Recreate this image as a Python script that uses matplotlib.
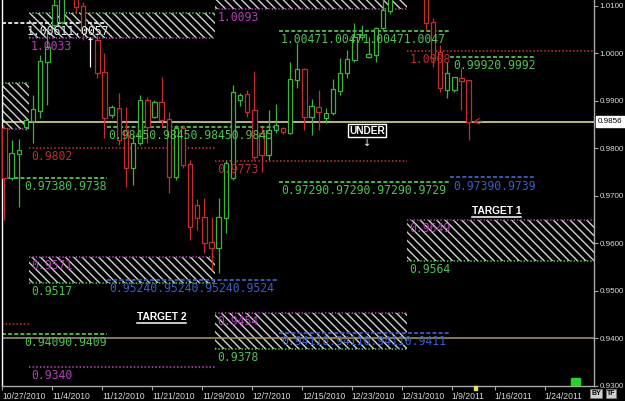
"""Daily candles with pivot levels, hatched target zones and price markers."""

import matplotlib

matplotlib.use("Agg")
import matplotlib.pyplot as plt
from matplotlib.lines import Line2D
from matplotlib.patches import Rectangle
from matplotlib.transforms import IdentityTransform

# ---------------------------------------------------------------- data
bar_idx = [0, 1, 2, 3, 4, 5, 6, 7, 8, 10, 11, 12, 13, 14, 15, 16, 17, 18, 19,
           20, 21, 22, 23, 24, 25, 26, 27, 28, 29, 30, 31, 32, 33, 34, 35, 36,
           37, 38, 39, 40, 41, 42, 43, 44, 45, 46, 47, 48, 49, 50, 51, 52, 53,
           54, 59, 60, 61, 62, 63, 64, 65]
opens = [0.9843, 0.9738, 0.9788, 0.9845, 0.9858, 0.9879, 0.9982, 1.0060,
         1.0066, 1.0125, 1.0100, 1.0030, 1.0028, 0.9961, 0.9871, 0.9885,
         0.9839, 0.9759, 0.9812, 0.9902, 0.9866, 0.9898, 0.9862, 0.9740,
         0.9843, 0.9767, 0.9681, 0.9656, 0.9603, 0.9591, 0.9654, 0.9738,
         0.9902, 0.9915, 0.9881, 0.9833, 0.9786, 0.9839, 0.9843, 0.9833,
         0.9944, 0.9967, 0.9866, 0.9887, 0.9864, 0.9875, 0.9921, 0.9959,
         0.9986, 1.0035, 0.9993, 0.9997, 1.0054, 1.0089, 1.0130, 1.0066,
         1.0003, 0.9923, 0.9923, 0.9948, 0.9944]
highs = [0.9849, 0.9818, 0.9820, 0.9864, 0.9913, 0.9997, 1.0045, 1.0125,
         1.0130, 1.0130, 1.0108, 1.0035, 1.0045, 1.0001, 0.9892, 0.9917,
         0.9887, 0.9828, 0.9913, 0.9908, 0.9902, 0.9950, 0.9877, 0.9849,
         0.9849, 0.9776, 0.9694, 0.9696, 0.9656, 0.9696, 0.9776, 0.9934,
         0.9917, 0.9923, 0.9963, 0.9845, 0.9881, 0.9894, 0.9845, 0.9982,
         1.0022, 0.9969, 0.9904, 0.9923, 0.9885, 0.9946, 0.9991, 1.0007,
         1.0064, 1.0060, 1.0035, 1.0056, 1.0118, 1.0135, 1.0140, 1.0075,
         1.0018, 0.9982, 0.9950, 0.9969, 0.9944]
lows = [0.9649, 0.9734, 0.9677, 0.9839, 0.9812, 0.9864, 0.9892, 1.0056,
        1.0062, 1.0087, 1.0028, 0.9972, 0.9948, 0.9822, 0.9864, 0.9807,
        0.9719, 0.9723, 0.9807, 0.9812, 0.9864, 0.9845, 0.9706, 0.9734,
        0.9759, 0.9607, 0.9628, 0.9580, 0.9544, 0.9538, 0.9622, 0.9734,
        0.9889, 0.9866, 0.9776, 0.9750, 0.9776, 0.9833, 0.9831, 0.9831,
        0.9927, 0.9839, 0.9828, 0.9839, 0.9854, 0.9871, 0.9913, 0.9948,
        0.9982, 1.0028, 0.9991, 0.9982, 1.0049, 1.0083, 1.0049, 0.9972,
        0.9919, 0.9906, 0.9919, 0.9881, 0.9818]
closes = [0.9738, 0.9790, 0.9797, 0.9860, 0.9883, 0.9984, 1.0014, 1.0102,
          1.0120, 1.0098, 1.0043, 1.0030, 0.9959, 0.9864, 0.9887, 0.9818,
          0.9759, 0.9812, 0.9902, 0.9845, 0.9898, 0.9860, 0.9740, 0.9843,
          0.9765, 0.9635, 0.9654, 0.9601, 0.9591, 0.9656, 0.9769, 0.9919,
          0.9913, 0.9877, 0.9782, 0.9786, 0.9839, 0.9849, 0.9835, 0.9946,
          0.9967, 0.9866, 0.9889, 0.9877, 0.9875, 0.9925, 0.9959, 0.9988,
          1.0035, 1.0039, 0.9999, 1.0054, 1.0092, 1.0125, 1.0064, 0.9991,
          0.9927, 0.9959, 0.9950, 0.9942, 0.9856]

tick_idx = [0, 7, 14, 21, 28, 35, 42, 49, 56, 63, 69, 76]
tick_labels = ["10/27/2010", "11/4/2010", "11/12/2010", "11/21/2010",
               "11/29/2010", "12/7/2010", "12/15/2010", "12/23/2010",
               "12/31/2010", "1/9/2011", "1/16/2011", "1/24/2011"]
price_ticks = [0.9300, 0.9400, 0.9500, 0.9600, 0.9700, 0.9800, 0.9900,
               1.0000, 1.0100]
last_price = 0.9856
guide_prices = [0.9856, 0.9400]

# hatched zones: bar span, price span, labels
zone_x0 = [3.4, 29.5, -0.35, 3.4, 56.4, 29.5]
zone_x1 = [29.5, 56.4, 3.4, 29.5, 82.6, 56.4]
zone_lo = [1.0033, 1.0093, 0.9840, 0.9517, 0.9564, 0.9378]
zone_hi = [1.0086, 1.0140, 0.9938, 0.9571, 0.9649, 0.9454]
zone_kind = ["upper", "upper", "upper", "lower", "lower", "lower"]
zone_top_label = ["", "", "", "0.9571", "0.9649", "0.9454"]
zone_bottom_label = ["1.0033", "1.0093", "", "0.9517", "0.9564", "0.9378"]

# dashed / dotted pivot levels
level_price = [1.0064, 1.0047, 1.0006, 0.9992, 0.9845, 0.9802, 0.9773,
               0.9738, 0.9729, 0.9739, 0.9524, 0.9409, 0.9411, 0.9430, 0.9340]
level_x0 = [-0.35, 38.5, 56.4, 62.4, 14.4, 3.4, 29.5, -0.35, 38.5, 62.4,
            14.4, -0.35, 38.5, -0.35, 3.4]
level_x1 = [14.4, 62.4, 82.6, 74.3, 38.5, 29.5, 56.4, 14.4, 62.4, 74.3,
            38.5, 14.4, 62.4, 3.4, 29.5]
level_color = ["white", "green", "red", "green", "green", "red", "red",
               "green", "green", "blue", "blue", "green", "blue", "red",
               "magenta"]
level_label = ["1.00611.0057", "1.00471.00471.00471.0047", "1.0008",
               "0.99920.9992", "0.98450.98450.98450.9845", "0.9802", "0.9773",
               "0.97380.9738", "0.97290.97290.97290.9729", "0.97390.9739",
               "0.95240.95240.95240.9524", "0.94090.9409",
               "0.94110.94110.94110.9411", "", "0.9340"]
level_label_x = [3.1, 38.7, 56.7, 62.8, 14.5, 3.8, 29.8, 2.7, 38.7, 62.8,
                 14.7, 2.7, 38.7, 0.0, 3.8]

# ---------------------------------------------------------------- style
FIG_W, FIG_H = 625, 401
BG = "black"
AXIS_GRAY = "#a8a8a8"
TICK_TEXT = "#d8d8d8"
CANDLE_UP = "#3cb43c"
CANDLE_DOWN = "#c42e2e"
HATCH_GRAY = "#d2d2d2"
LEVEL_COLORS = {
    "green": "#52c052",
    "red": "#b8302c",
    "magenta": "#b040b4",
    "blue": "#3c5ec4",
    "white": "#e4eef0",
}
LEVEL_STYLES = {
    "green": (0, (2.2, 1.2)),
    "blue": (0, (2.2, 1.2)),
    "white": (0, (2.2, 1.2)),
    "red": (0, (0.8, 1.2)),
    "magenta": (0, (0.8, 1.2)),
}
LABEL_FONT = dict(family="DejaVu Sans Mono", fontsize=8.3)
AXIS_FONT = "Liberation Sans"
BAR_OFFSET = 0.35   # candles sit slightly right of the date tick
BODY_W = 0.62


def draw_candles(ax):
    """Hollow-bodied candles: wick first, then the outlined body on top."""
    for i, o, h, l, c in zip(bar_idx, opens, highs, lows, closes):
        if c > o:
            col = CANDLE_UP
        elif c < o:
            col = CANDLE_DOWN
        else:
            col = "white"
        ax.vlines(i, l, h, color=col, lw=0.9, zorder=3)
        lo, hi = min(o, c), max(o, c)
        ax.add_patch(Rectangle((i - BODY_W / 2, lo), BODY_W, max(hi - lo, 0.00005),
                               facecolor=BG, edgecolor=col, lw=0.9, zorder=4))


def draw_zones(ax):
    """Hatched zones with dotted borders and their price labels."""
    for x0, x1, lo, hi, kind, top_lab, bot_lab in zip(
            zone_x0, zone_x1, zone_lo, zone_hi, zone_kind,
            zone_top_label, zone_bottom_label):
        ax.add_patch(Rectangle((x0, lo), x1 - x0, hi - lo, facecolor="none",
                               edgecolor=HATCH_GRAY, hatch="\\\\\\\\", lw=0,
                               zorder=1))
        top_col = "green" if kind == "upper" else "magenta"
        bot_col = "magenta" if kind == "upper" else "green"
        ax.hlines(hi, x0, x1, color=LEVEL_COLORS[top_col],
                  linestyles=LEVEL_STYLES["red"], lw=1.2, zorder=2)
        ax.hlines(lo, x0, x1, color=LEVEL_COLORS[bot_col],
                  linestyles=LEVEL_STYLES["red"], lw=1.2, zorder=2)
        if top_lab:
            ax.annotate(top_lab, (x0 + 0.3, hi), xytext=(0, -1.5),
                        textcoords="offset points", va="top", ha="left",
                        color=LEVEL_COLORS["magenta"], zorder=5, **LABEL_FONT)
        if bot_lab:
            ax.annotate(bot_lab, (x0 + 0.3, lo), xytext=(0, -1.5),
                        textcoords="offset points", va="top", ha="left",
                        color=LEVEL_COLORS[bot_col], zorder=5, **LABEL_FONT)


def draw_levels(ax):
    """Pivot level segments with their repeated price read-outs."""
    for p, x0, x1, key, lab, lx in zip(level_price, level_x0, level_x1,
                                       level_color, level_label, level_label_x):
        ax.hlines(p, x0, x1, color=LEVEL_COLORS[key],
                  linestyles=LEVEL_STYLES[key], lw=1.3, zorder=2)
        if lab:
            ax.annotate(lab, (lx, p), xytext=(0, -1.5),
                        textcoords="offset points", va="top", ha="left",
                        color=LEVEL_COLORS[key], zorder=5, **LABEL_FONT)


def underline(fig, text, color="white"):
    """Matplotlib has no underline, so draw one under the rendered text."""
    fig.canvas.draw()
    bb = text.get_window_extent()
    fig.add_artist(Line2D([bb.x0, bb.x1], [bb.y0 - 1, bb.y0 - 1],
                          transform=IdentityTransform(), color=color, lw=1.1))


def main():
    plt.rcParams["hatch.linewidth"] = 1.0
    fig = plt.figure(figsize=(FIG_W / 100, FIG_H / 100), dpi=100, facecolor=BG)
    ax = fig.add_axes([2 / FIG_W, 15 / FIG_H, 592 / FIG_W, 386 / FIG_H])
    ax.set_facecolor(BG)
    ax.set_xlim(-BAR_OFFSET, 82.56)
    ax.set_ylim(0.9300, 1.01126)

    for p, col in zip(guide_prices, ["#ece7a8", "#a89a68"]):
        ax.axhline(p, color=col, lw=1.1, zorder=2)

    draw_zones(ax)
    draw_levels(ax)
    draw_candles(ax)

    # small red pointer at the last close
    ax.annotate("", xy=(bar_idx[-1] + 0.2, last_price),
                xytext=(bar_idx[-1] + 2.2, last_price + 0.0002),
                arrowprops=dict(arrowstyle="->", color=CANDLE_DOWN, lw=0.8),
                zorder=6)

    # axes frame
    ax.spines["top"].set_visible(False)
    ax.spines["left"].set_color("white")
    ax.spines["right"].set_color(AXIS_GRAY)
    ax.spines["bottom"].set_color(AXIS_GRAY)
    for sp in ax.spines.values():
        sp.set_linewidth(1.0)

    ax.yaxis.tick_right()
    ax.set_yticks(price_ticks)
    ax.set_yticklabels([f"{p:.4f}" for p in price_ticks])
    ax.set_xticks([t - BAR_OFFSET for t in tick_idx])
    ax.set_xticklabels(tick_labels, ha="left")
    ax.tick_params(axis="y", colors=AXIS_GRAY, length=3, width=0.8, pad=1,
                   labelsize=5.8, labelcolor=TICK_TEXT)
    ax.tick_params(axis="x", colors=AXIS_GRAY, length=3, width=0.8, pad=1,
                   labelsize=6.2, labelcolor=TICK_TEXT)
    for lab in ax.get_xticklabels() + ax.get_yticklabels():
        lab.set_family(AXIS_FONT)

    # current price flag on the axis
    ax.annotate(f"{last_price:.4f}", (1, last_price),
                xycoords=("axes fraction", "data"), xytext=(3, 0),
                textcoords="offset points", ha="left", va="center",
                fontsize=5.8, family=AXIS_FONT, color="black",
                bbox=dict(boxstyle="square,pad=0.25", facecolor="white",
                          edgecolor="white"), annotation_clip=False)

    # bottom-right marker square and BY / TF buttons
    ax.add_patch(Rectangle((0.961, 0.0), 0.015, 0.02, transform=ax.transAxes,
                           color="#22d822", zorder=6))
    for x, s in ((596, "BY"), (611, "TF")):
        fig.text(x / FIG_W, 4 / FIG_H, s, fontsize=5, family=AXIS_FONT,
                 color="black", weight="bold", ha="center", va="bottom",
                 bbox=dict(boxstyle="square,pad=0.15", facecolor="#d0d0d0",
                           edgecolor="#808080", lw=0.5))
    fig.patches.append(Rectangle((474 / FIG_W, 11 / FIG_H), 3 / FIG_W, 4 / FIG_H,
                                 transform=fig.transFigure, color="#e8e060"))

    # annotations
    ax.text(50.77, 0.9837, "UNDER", color="white", weight="bold", fontsize=7.3,
            family=AXIS_FONT, ha="center", va="center", zorder=7,
            bbox=dict(boxstyle="square,pad=0.15", facecolor=BG,
                      edgecolor="white", lw=1.0))
    ax.text(50.77, 0.9812, "\u2193", color="white", fontsize=7, ha="center",
            va="center", zorder=7)
    t1 = ax.text(68.9, 0.9668, "TARGET 1", color="white", weight="bold",
                 fontsize=7.4, family=AXIS_FONT, ha="center", va="center",
                 zorder=7)
    t2 = ax.text(22.0, 0.9445, "TARGET 2", color="white", weight="bold",
                 fontsize=7.4, family=AXIS_FONT, ha="center", va="center",
                 zorder=7)
    underline(fig, t1)
    underline(fig, t2)

    fig.savefig("out.png", dpi=100, facecolor=BG)


if __name__ == "__main__":
    main()
